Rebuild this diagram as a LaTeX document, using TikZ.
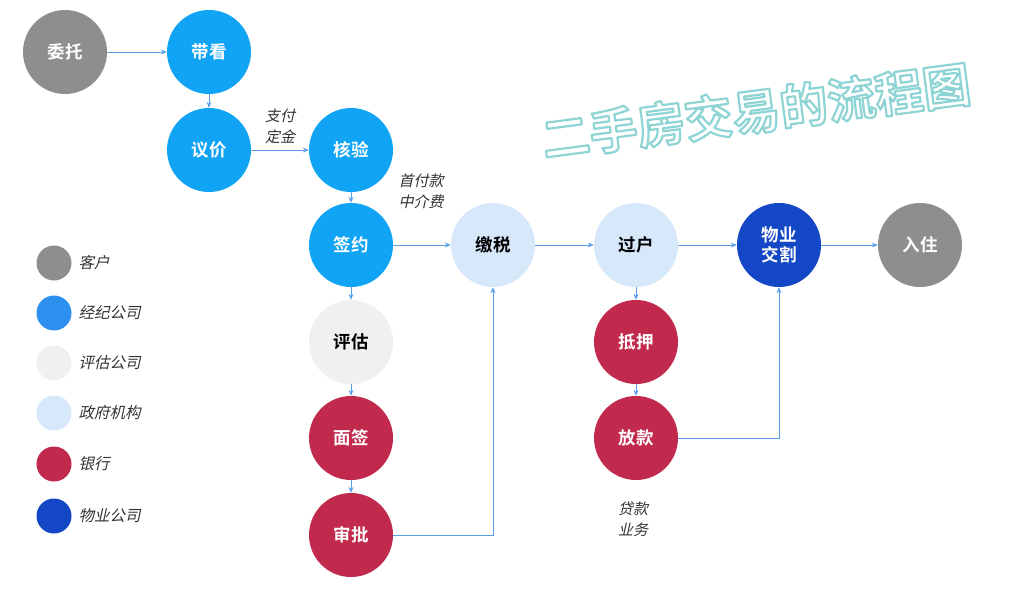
\documentclass[tikz,border=0pt]{standalone}
\usepackage{fontspec}
\usetikzlibrary{arrows.meta}
\setmainfont{Noto Sans CJK SC}[BoldFont={Noto Sans CJK SC Bold}]
\newfontfamily\slantcjk{Noto Sans CJK SC}[FakeSlant=0.22]
\newfontfamily\titlecjk{Noto Sans CJK SC Bold}
\definecolor{custgray}{HTML}{8E8E8E}
\definecolor{agentblue}{HTML}{12A4F4}
\definecolor{legendblue}{HTML}{2E90EE}
\definecolor{evalgray}{HTML}{F0F0F0}
\definecolor{govblue}{HTML}{D6E8FA}
\definecolor{bankred}{HTML}{C12A4C}
\definecolor{propblue}{HTML}{1447C6}
\definecolor{linkblue}{HTML}{5A9FE6}
\definecolor{notegray}{HTML}{333333}
% stroked title text (fill white, teal outline)
\newcommand{\outlinetext}[1]{\special{pdf:code q 2 Tr 2.2 w 1 j 0.56 0.83 0.83 RG}#1\special{pdf:code Q}}

\begin{document}
\begin{tikzpicture}[
    x=1pt, y=-1pt,
    >={Stealth[length=6pt,width=5pt]},
    stage/.style={circle, minimum size=84pt, inner sep=0pt, align=center,
      font=\bfseries\fontsize{17.5}{20}\selectfont, text=white},
    link/.style={->, line width=0.8pt, linkblue},
    note/.style={font=\slantcjk\fontsize{15}{21}\selectfont, text=notegray, align=left},
    legdot/.style={circle, minimum size=35pt, inner sep=0pt},
    legtxt/.style={font=\slantcjk\fontsize{15.5}{18}\selectfont, text=notegray, anchor=west}
  ]
  \useasboundingbox (0,0) rectangle (1024,589);

  % Title
  \node[rotate=7.5, font=\titlecjk\fontsize{48}{52}\selectfont, text=white] (title) at (756,111)
    {\outlinetext{二手房交易的流程图}};

  % Stages
  \node[stage, fill=custgray]  (entrust) at (65,52)  {委托};
  \node[stage, fill=agentblue] (viewing) at (209,52) {带看};
  \node[stage, fill=agentblue] (bargain) at (209,150) {议价};
  \node[stage, fill=agentblue] (verify)  at (351,150) {核验};
  \node[stage, fill=agentblue] (sign)    at (351,245) {签约};
  \node[stage, fill=evalgray, text=black] (assess) at (351,342) {评估};
  \node[stage, fill=bankred]   (interview) at (351,438) {面签};
  \node[stage, fill=bankred]   (approve) at (351,535) {审批};
  \node[stage, fill=govblue, text=black] (tax) at (493,245) {缴税};
  \node[stage, fill=govblue, text=black] (transfer) at (636,245) {过户};
  \node[stage, fill=bankred]   (mortgage) at (636,342) {抵押};
  \node[stage, fill=bankred]   (loan) at (636,438) {放款};
  \node[stage, fill=propblue]  (handover) at (779,245) {物业\\交割};
  \node[stage, fill=custgray]  (movein) at (920,245) {入住};

  % Connectors
  \draw[link] (entrust) -- (viewing);
  \draw[link] (viewing) -- (bargain);
  \draw[link] (bargain) -- (verify);
  \draw[link] (verify) -- (sign);
  \draw[link] (sign) -- (assess);
  \draw[link] (assess) -- (interview);
  \draw[link] (interview) -- (approve);
  \draw[link] (sign) -- (tax);
  \draw[link] (approve) -| (tax);
  \draw[link] (tax) -- (transfer);
  \draw[link] (transfer) -- (handover);
  \draw[link] (handover) -- (movein);
  \draw[link] (transfer) -- (mortgage);
  \draw[link] (mortgage) -- (loan);
  \draw[link] (loan) -| (handover);

  % Notes
  \node[note] (deposit) at (280,126) {支付\\定金};
  \node[note] (downpay) at (421,191) {首付款\\中介费};
  \node[note] (loanbiz) at (633,519) {贷款\\业务};

  % Legend
  \foreach \y/\col/\txt [count=\i] in {263/custgray/客户, 313/legendblue/经纪公司,
      363/evalgray/评估公司, 413/govblue/政府机构, 464/bankred/银行, 516/propblue/物业公司} {
    \node[legdot, fill=\col] (leg\i) at (54,\y) {};
    \node[legtxt] (legtxt\i) at (75,\y) {\txt};
  }
\end{tikzpicture}
\end{document}
